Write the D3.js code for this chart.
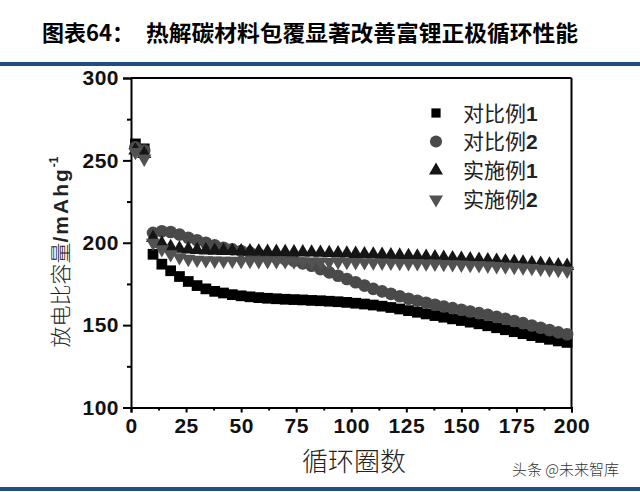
<!DOCTYPE html>
<html><head><meta charset="utf-8">
<script src="https://cdn.jsdelivr.net/npm/d3@7"></script>
<style>
html,body{margin:0;padding:0;background:#fff;}
svg{display:block;}
</style></head>
<body>
<svg id="c" width="640" height="492"></svg>
<script>
const cycles = [2,6,10,14,18,22,26,30,34,38,42,46,50,54,58,62,66,70,74,78,82,86,90,94,98,102,106,110,114,118,122,126,130,134,138,142,146,150,154,158,162,166,170,174,178,182,186,190,194,198];
const seriesNames = ["对比例1","对比例2","实施例1","实施例2"];
const comp1 = [260,257,193,187,183,179.5,176.5,174,172,170.5,169.5,168.5,167.8,167.2,166.7,166.3,166,165.7,165.5,165.3,165,164.8,164.5,164.2,163.8,163.3,162.8,162.2,161.5,160.7,159.8,158.8,157.8,156.8,155.8,154.8,153.8,152.8,151.8,150.8,149.6,148.4,147.2,146,144.8,143.6,142.5,141.4,140.4,139.5];
const comp2 = [258,256,206,207,206.5,205,203,201.5,200,198.5,197,196,195,194,193,192,191,190,189,187.5,186,184,182,180,178,176,174,172,170.5,169,167.5,166,164.8,163.6,162.4,161.3,160.3,159.3,158.3,157.3,156.2,155,153.8,152.5,151.2,149.8,148.4,147,145.6,144.5];
const ex1 = [256,254,203,199.5,197.5,196.5,196,195.6,195.4,195.2,195.1,195,194.9,194.8,194.7,194.6,194.5,194.4,194.3,194.2,194.1,194,193.8,193.6,193.5,193.3,193.1,192.9,192.7,192.5,192.2,192,191.7,191.5,191.2,190.9,190.6,190.3,190,189.7,189.4,189.1,188.7,188.4,188,187.6,187.2,186.8,186.4,186];
const ex2 = [255,251,200,196,193,191.2,190.2,189.6,189.3,189.1,189,189,188.9,188.9,188.8,188.8,188.7,188.7,188.6,188.6,188.5,188.5,188.4,188.4,188.3,188.2,188.1,188,187.9,187.8,187.7,187.6,187.5,187.4,187.3,187.1,186.9,186.7,186.5,186.3,186.1,185.8,185.5,185.2,184.9,184.6,184.2,183.8,183.4,183];
const xTicks = [0,25,50,75,100,125,150,175,200];
const yTicks = [100,150,200,250,300];

const svg = d3.select("#c");
const x = d3.scaleLinear().domain([0,200]).range([131,571.5]);
const y = d3.scaleLinear().domain([100,300]).range([407.5,78]);

// title
svg.append("text").attr("x",42).attr("y",41)
  .attr("font-family","'Noto Sans CJK SC'").attr("font-weight","bold").attr("font-size",22)
  .text("图表64：");
svg.append("text").attr("x",146).attr("y",41)
  .attr("font-family","'Noto Sans CJK SC'").attr("font-weight","bold").attr("font-size",22)
  .attr("textLength",432).attr("lengthAdjust","spacingAndGlyphs")
  .text("热解碳材料包覆显著改善富锂正极循环性能");
svg.append("rect").attr("x",0).attr("y",62).attr("width",640).attr("height",4).attr("fill","#1f4e85");
svg.append("rect").attr("x",0).attr("y",487).attr("width",640).attr("height",4).attr("fill","#1f4e85");

// frame
svg.append("line").attr("x1",x(0)).attr("x2",x(200)).attr("y1",y(300)).attr("y2",y(300)).attr("stroke","#000").attr("stroke-width",2);
svg.append("line").attr("x1",x(200)).attr("x2",x(200)).attr("y1",y(300)).attr("y2",y(100)).attr("stroke","#000").attr("stroke-width",2);

// axes
const xAxis = svg.append("g").attr("transform",`translate(0,${y(100)})`)
  .call(d3.axisBottom(x).tickValues(xTicks).tickSize(5).tickPadding(6));
const xMinor = svg.append("g").attr("transform",`translate(0,${y(100)})`)
  .call(d3.axisBottom(x).tickValues(d3.range(12.5,200,25)).tickSize(3).tickFormat(""));
const yAxis = svg.append("g").attr("transform",`translate(${x(0)},0)`)
  .call(d3.axisLeft(y).tickValues(yTicks).tickSize(8).tickPadding(4));
const yMinor = svg.append("g").attr("transform",`translate(${x(0)},0)`)
  .call(d3.axisLeft(y).tickValues([125,175,225,275]).tickSize(4).tickFormat(""));
[xAxis,xMinor,yAxis,yMinor].forEach(g=>{
  g.select(".domain").attr("stroke","#000").attr("stroke-width",2);
  g.selectAll(".tick line").attr("stroke","#000").attr("stroke-width",2);
  g.selectAll("text").attr("font-family","'Liberation Sans', Arial, sans-serif")
    .attr("font-weight","bold").attr("font-size",21).attr("fill","#111").style("letter-spacing","0.5px");
});
xMinor.select(".domain").remove(); yMinor.select(".domain").remove();

// axis titles
svg.append("text").attr("x",354).attr("y",471).attr("text-anchor","middle")
  .attr("font-family","'Noto Sans CJK SC'").attr("font-weight",300).attr("font-size",26).attr("fill","#222")
  .text("循环圈数");
const yt = svg.append("text").attr("transform","translate(68,252) rotate(-90)").attr("text-anchor","middle").attr("fill","#222");
yt.append("tspan").attr("font-family","'Noto Sans CJK SC'").attr("font-weight",300).attr("font-size",21).text("放电比容量");
yt.append("tspan").attr("font-family","'Liberation Sans', Arial, sans-serif").attr("font-weight","bold").attr("font-size",21).style("letter-spacing","2px").text("/mAhg");
yt.append("tspan").attr("font-family","'Liberation Sans', Arial, sans-serif").attr("font-weight","bold").attr("font-size",12).attr("dy",-10).text("-1");

// series
const series = [
  {vals: comp1, type: d3.symbolSquare, size: 115, color: "#000", rot: 0},
  {vals: comp2, type: d3.symbolCircle, size: 125, color: "#4a4a4a", rot: 0},
  {vals: ex1, type: d3.symbolTriangle, size: 88, color: "#151515", rot: 0},
  {vals: ex2, type: d3.symbolTriangle, size: 88, color: "#525252", rot: 180}
];
series.forEach(s=>{
  const sym = d3.symbol().type(s.type).size(s.size);
  svg.append("g").selectAll("path").data(cycles.map((c,i)=>[c,s.vals[i]])).join("path")
    .attr("d",sym).attr("fill",s.color)
    .attr("transform",d=>`translate(${x(d[0])},${y(d[1])}) rotate(${s.rot})`);
});

// legend
const legY = [113,141.5,170.5,199.5];
const legSize = [85,115,85,85];
series.forEach((s,i)=>{
  const sym = d3.symbol().type(s.type).size(legSize[i]);
  svg.append("path").attr("d",sym).attr("fill",s.color)
    .attr("transform",`translate(436,${legY[i]}) rotate(${s.rot})`);
  const t = svg.append("text").attr("x",463).attr("y",legY[i]+7.5).attr("fill","#222");
  t.append("tspan").attr("font-family","'Noto Sans CJK SC'").attr("font-size",21).text(seriesNames[i].slice(0,3));
  t.append("tspan").attr("font-family","'Liberation Sans', Arial, sans-serif").attr("font-weight","bold").attr("font-size",21).text(seriesNames[i].slice(3));
});

// watermark
svg.append("text").attr("x",512).attr("y",475).attr("font-family","'Noto Sans CJK SC'").attr("font-weight",300)
  .attr("font-size",15).attr("fill","#333").text("头条 @未来智库");
</script>
</body></html>
